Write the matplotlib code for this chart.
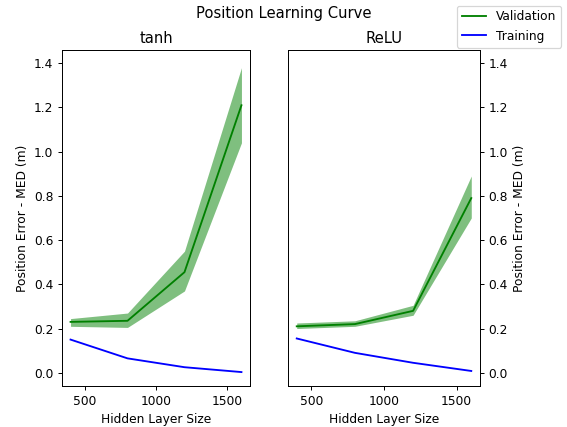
import matplotlib
matplotlib.use("Agg")
import matplotlib.pyplot as plt
import numpy as np

hidden_sizes = [400, 800, 1200, 1600]

# tanh
tanh_val = [0.23, 0.235, 0.455, 1.21]
tanh_val_lo = [0.21, 0.205, 0.37, 1.04]
tanh_val_hi = [0.245, 0.27, 0.55, 1.38]
tanh_train = [0.15, 0.065, 0.025, 0.003]

# ReLU
relu_val = [0.21, 0.22, 0.28, 0.79]
relu_val_lo = [0.20, 0.21, 0.26, 0.70]
relu_val_hi = [0.225, 0.235, 0.305, 0.89]
relu_train = [0.155, 0.09, 0.045, 0.008]

dpi = 567 / 6.4
fig = plt.figure(figsize=(6.4, 427 / dpi), dpi=dpi)
ax1 = fig.add_axes([62/567, 1-386/427, 188/567, 336/427])
ax2 = fig.add_axes([288/567, 1-386/427, 192/567, 336/427], sharey=ax1)

for ax, title, val, lo, hi, train in [
        (ax1, 'tanh', tanh_val, tanh_val_lo, tanh_val_hi, tanh_train),
        (ax2, 'ReLU', relu_val, relu_val_lo, relu_val_hi, relu_train)]:
    ax.plot(hidden_sizes, val, color='green', label='Validation')
    ax.fill_between(hidden_sizes, lo, hi, color='green', alpha=0.5, linewidth=0)
    ax.plot(hidden_sizes, train, color='blue', label='Training')
    ax.set_title(title)
    ax.set_xlabel('Hidden Layer Size')
    ax.set_ylabel('Position Error - MED (m)')

ax1.set_ylim(-0.06, 1.46)
ax2.yaxis.tick_right()
ax2.yaxis.set_label_position('right')
ax2.tick_params(labelleft=False)

handles, labels = ax1.get_legend_handles_labels()
fig.legend(handles, labels, loc='upper right', bbox_to_anchor=(0.99, 0.987),
           borderaxespad=0)
fig.suptitle('Position Learning Curve', y=0.985)

fig.savefig('out.png', dpi=dpi)
